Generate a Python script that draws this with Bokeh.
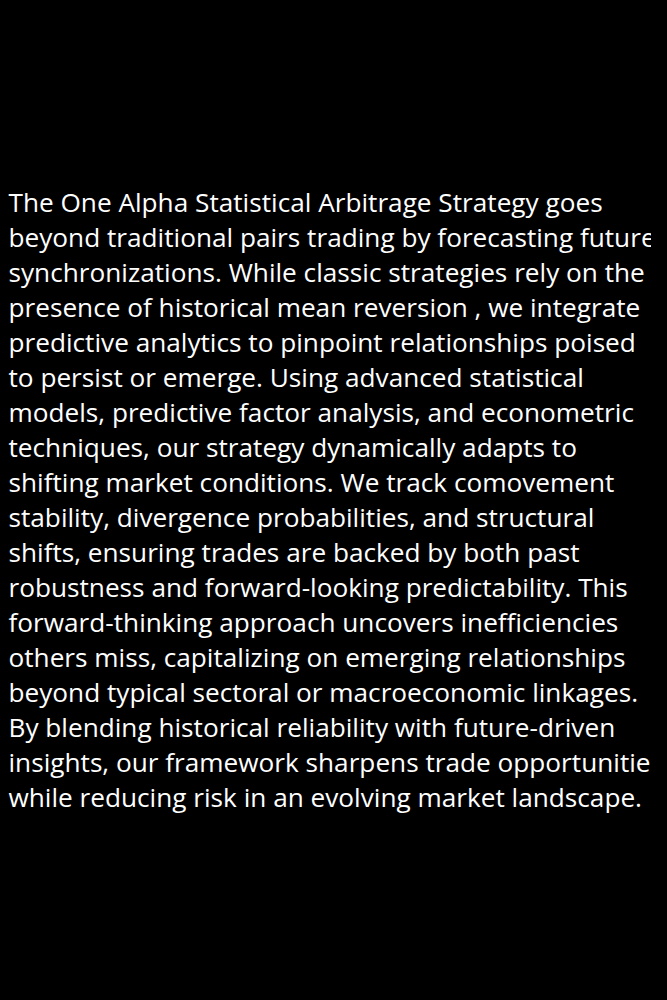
from bokeh.plotting import figure
from bokeh.models import Range1d
from bokeh.core.properties import value
from bokeh.embed import file_html
from bokeh.resources import INLINE

lines = [
    "The One Alpha Statistical Arbitrage Strategy goes",
    "beyond traditional pairs trading by forecasting future",
    "synchronizations. While classic strategies rely on the",
    "presence of historical mean reversion , we integrate",
    "predictive analytics to pinpoint relationships poised",
    "to persist or emerge. Using advanced statistical",
    "models, predictive factor analysis, and econometric",
    "techniques, our strategy dynamically adapts to",
    "shifting market conditions. We track comovement",
    "stability, divergence probabilities, and structural",
    "shifts, ensuring trades are backed by both past",
    "robustness and forward-looking predictability. This",
    "forward-thinking approach uncovers inefficiencies",
    "others miss, capitalizing on emerging relationships",
    "beyond typical sectoral or macroeconomic linkages.",
    "By blending historical reliability with future-driven",
    "insights, our framework sharpens trade opportunities",
    "while reducing risk in an evolving market landscape.",
]
line_no = list(range(len(lines)))

# line index -> page position: first line centre at 202px, 35px per line
p = figure(width=651, height=984, output_backend="svg", toolbar_location=None,
           x_range=Range1d(-8, 643), y_range=Range1d(22.343, -5.771),
           background_fill_color="black", border_fill_color="black",
           min_border=0, outline_line_color=None)
p.axis.visible = False
p.grid.visible = False

p.text(x=[0] * len(lines), y=line_no, text=lines, text_color="white",
       text_font=value("Open Sans"), text_font_size="26.2px",
       text_baseline="middle", text_align="left")

html = file_html(p, INLINE)
html = html.replace("<head>", "<head><style>body{background:black;}</style>", 1)
open("out.html", "w").write(html)
